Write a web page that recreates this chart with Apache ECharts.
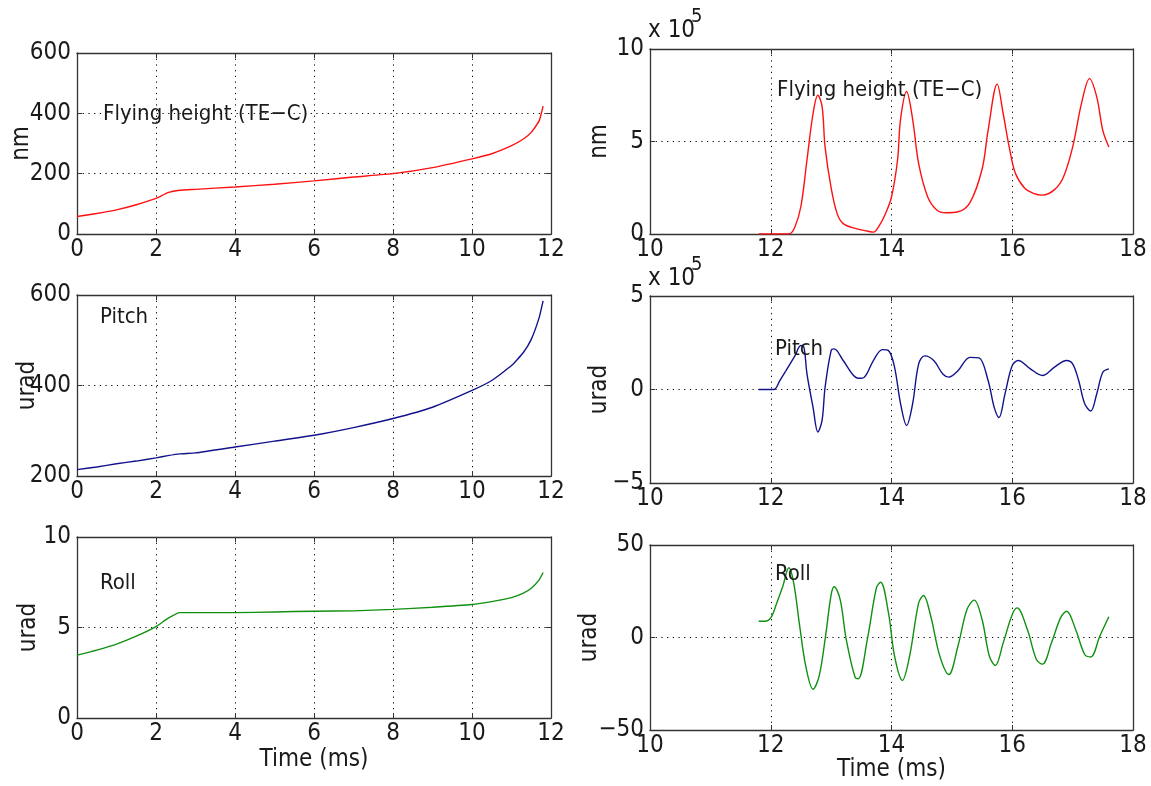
<!DOCTYPE html>
<html><head><meta charset="utf-8">
<script src="https://cdn.jsdelivr.net/npm/echarts@6.0.0/dist/echarts.min.js"></script>
<style>html,body{margin:0;padding:0;background:#fff}#c{width:1151px;height:786px}</style>
</head><body><div id="c"></div><script>
// ---- data ----
const leftTime = [0, 0.5, 1, 1.5, 2, 2.3, 2.6, 3, 4, 5, 6, 7, 8, 9, 10, 10.5, 11, 11.3, 11.5, 11.7, 11.8];
const flyHeightLeft = [58, 68, 80, 97, 118, 137, 145, 148, 156, 165, 176, 189, 200, 220, 249, 266, 293, 315, 337, 375, 424];
const pitchLeft = [214, 220, 227, 233, 240, 245, 249, 251, 264, 277, 290, 307, 327, 352, 389, 411, 444, 473, 502, 550, 587];
const rollLeft = [3.47, 3.75, 4.08, 4.52, 5.05, 5.5, 5.82, 5.82, 5.82, 5.86, 5.9, 5.92, 6.0, 6.12, 6.27, 6.43, 6.65, 6.9, 7.17, 7.63, 8.04];

const flyTimeRight = [11.8, 12.0, 12.3, 12.4, 12.5, 12.6, 12.7, 12.78, 12.85, 12.9, 13.0, 13.1, 13.2, 13.4, 13.6, 13.7, 13.8, 13.9, 14.0, 14.1, 14.15, 14.25, 14.35, 14.45, 14.6, 14.75, 14.9, 15.1, 15.3, 15.5, 15.6, 15.75, 15.85, 15.95, 16.05, 16.2, 16.35, 16.5, 16.7, 16.85, 17.0, 17.15, 17.28, 17.4, 17.5, 17.6];
const flyHeightRight = [0, 0, 0, 0.38, 1.5, 4.0, 6.5, 7.5, 6.9, 4.7, 2.5, 1.1, 0.56, 0.3, 0.16, 0.1, 0.47, 1.1, 2.0, 4.0, 6.2, 7.7, 6.2, 3.8, 2.0, 1.3, 1.15, 1.2, 1.7, 3.5, 5.6, 8.1, 6.5, 4.7, 3.3, 2.5, 2.2, 2.1, 2.4, 3.1, 4.7, 7.1, 8.4, 7.4, 5.6, 4.7];

const pitchTimeRight = [11.8, 12.05, 12.15, 12.25, 12.4, 12.5, 12.55, 12.6, 12.7, 12.78, 12.85, 12.9, 13.0, 13.05, 13.2, 13.35, 13.45, 13.55, 13.7, 13.85, 13.95, 14.05, 14.15, 14.25, 14.35, 14.45, 14.55, 14.7, 14.85, 14.95, 15.1, 15.3, 15.45, 15.6, 15.7, 15.78, 15.88, 16.0, 16.1, 16.3, 16.5, 16.7, 16.9, 17.0, 17.1, 17.2, 17.3, 17.4, 17.5, 17.6];
const pitchRight = [0, 0, 0.48, 1.0, 1.8, 2.35, 2.25, 0.83, -0.94, -2.27, -1.65, 0.12, 2.08, 2.17, 1.55, 0.83, 0.6, 0.66, 1.55, 2.13, 2.08, 1.2, -0.76, -1.92, -0.76, 1.37, 1.8, 1.55, 0.83, 0.66, 1.0, 1.72, 1.69, 0.48, -0.94, -1.5, -0.23, 1.28, 1.55, 1.1, 0.75, 1.2, 1.55, 1.37, 0.48, -0.76, -1.15, -0.23, 0.92, 1.1];

const rollTimeRight = [11.8, 11.9, 12.0, 12.1, 12.2, 12.3, 12.38, 12.48, 12.58, 12.7, 12.8, 12.9, 13.0, 13.05, 13.15, 13.25, 13.4, 13.45, 13.6, 13.75, 13.82, 13.95, 14.05, 14.18, 14.3, 14.45, 14.53, 14.65, 14.8, 14.95, 15.1, 15.25, 15.37, 15.5, 15.62, 15.72, 15.85, 16.0, 16.08, 16.25, 16.4, 16.5, 16.65, 16.8, 16.9, 17.05, 17.2, 17.3, 17.45, 17.6];
const rollRight = [8.8, 8.8, 10.6, 18.7, 27.7, 37.7, 29.5, 6, -15.5, -28, -21, -1, 23, 27.4, 20.5, -1, -21.8, -22.3, -1, 26.8, 29.9, 13.3, -10, -23.2, -10, 18.7, 22.7, 11.5, -10, -20, -4.7, 15.1, 20.2, 9.7, -10, -15.1, -2.9, 12.4, 16, 4.3, -11.9, -14.4, -2.9, 10.6, 14.2, 4.3, -9.2, -10.5, 0.7, 11.2];

const leftXRange = [0, 12, 2];
const rightXRange = [10, 18, 2];
const titles = ['Flying height (TE\u2212C)', 'Pitch', 'Roll'];
const timeLabel = 'Time (ms)';
// -----------------------------------------

const FONT = '"Liberation Sans Narrow","DejaVu Sans Condensed","Liberation Sans",sans-serif';
const FS = 24;
const TFS = 22;
const TXT = '#1a1a1a';
const AX = '#333';

const panels = [
  {g:{left:77, top:53, width:474, height:181}, xr:leftXRange, yr:[0,600,200], yname:'nm', gap:43, t:leftTime, v:flyHeightLeft, color:'#ff1010', xname:'', ng:30, sm:0.15},
  {g:{left:77, top:295, width:474, height:181}, xr:leftXRange, yr:[200,600,200], yname:'urad', gap:37, t:leftTime, v:pitchLeft, color:'#12128c', xname:'', ng:30, sm:0.15},
  {g:{left:77, top:537, width:474, height:181}, xr:leftXRange, yr:[0,10,5], yname:'urad', gap:36, t:leftTime, v:rollLeft, color:'#109010', xname:timeLabel, ng:30, sm:0.15},
  {g:{left:650, top:49, width:483, height:185}, xr:rightXRange, yr:[0,10,5], yname:'nm', gap:38, t:flyTimeRight, v:flyHeightRight, color:'#ff1010', xname:'', ng:28, sm:0.35},
  {g:{left:650, top:296, width:483, height:187}, xr:rightXRange, yr:[-5,5,5], yname:'urad', gap:38, t:pitchTimeRight, v:pitchRight, color:'#12128c', xname:'', ng:28, sm:0.35},
  {g:{left:650, top:545, width:483, height:185}, xr:rightXRange, yr:[-50,50,50], yname:'urad', gap:48, t:rollTimeRight, v:rollRight, color:'#109010', xname:timeLabel, ng:28, sm:0.35}
];

const grid = [], xAxis = [], yAxis = [], series = [];
const dotted = {show:true, lineStyle:{color:'#000', width:1, type:[1.2,4.5]}};
const tick = {show:true, inside:true, length:5, lineStyle:{color:AX, width:1}};
const line = {show:true, onZero:false, lineStyle:{color:AX, width:1.3}};
const lbl = {fontFamily:FONT, fontSize:FS, color:TXT};
const minusFmt = v => String(v).replace('-', '\u2212');

panels.forEach((p, i) => {
  grid.push(Object.assign({containLabel:false, outerBoundsMode:'none'}, p.g));
  xAxis.push({type:'value', gridIndex:i, position:'bottom', min:p.xr[0], max:p.xr[1], interval:p.xr[2],
    axisLine:line, axisTick:tick, splitLine:dotted,
    axisLabel:Object.assign({margin:4, showMinLabel:true, showMaxLabel:true, hideOverlap:false, formatter:minusFmt}, lbl),
    name:p.xname, nameLocation:'middle', nameGap:p.ng, nameMoveOverlap:false, nameTextStyle:lbl});
  xAxis.push({type:'value', gridIndex:i, position:'top', min:p.xr[0], max:p.xr[1], interval:p.xr[2],
    axisLine:line, axisTick:tick, splitLine:{show:false}, axisLabel:{show:false}});
  yAxis.push({type:'value', gridIndex:i, position:'left', min:p.yr[0], max:p.yr[1], interval:p.yr[2],
    axisLine:line, axisTick:tick, splitLine:dotted,
    axisLabel:Object.assign({margin:6, showMinLabel:true, showMaxLabel:true, hideOverlap:false, formatter:minusFmt}, lbl),
    name:p.yname, nameLocation:'middle', nameRotate:90, nameGap:p.gap, nameMoveOverlap:false, nameTextStyle:lbl});
  yAxis.push({type:'value', gridIndex:i, position:'right', min:p.yr[0], max:p.yr[1], interval:p.yr[2],
    axisLine:line, axisTick:tick, splitLine:{show:false}, axisLabel:{show:false}});
  series.push({type:'line', xAxisIndex:2*i, yAxisIndex:2*i, data:p.t.map((x,k)=>[x, p.v[k]]),
    showSymbol:false, symbol:'none', smooth:p.sm, lineStyle:{color:p.color, width:1.4}, z:5});
});

function txt(x, yCenter, s, size) {
  const fs = size || TFS;
  return {type:'text', left:x, top:Math.round(yCenter - fs * 0.42), z:20,
    style:{text:s, fontFamily:FONT, fontSize:fs, fill:TXT}};
}
const graphic = [
  txt(103, 112, titles[0]), txt(777, 88, titles[0]),
  txt(100, 315, titles[1]), txt(775, 347, titles[1]),
  txt(100, 581, titles[2]), txt(775, 572, titles[2]),
  txt(648, 29, 'x 10', FS), txt(691, 15, '5', 20),
  txt(648, 277, 'x 10', FS), txt(691, 263, '5', 20)
];

const chart = echarts.init(document.getElementById('c'), null, {renderer:'canvas'});
chart.setOption({animation:false, backgroundColor:'#fff', grid, xAxis, yAxis, series, graphic});
</script></body></html>
